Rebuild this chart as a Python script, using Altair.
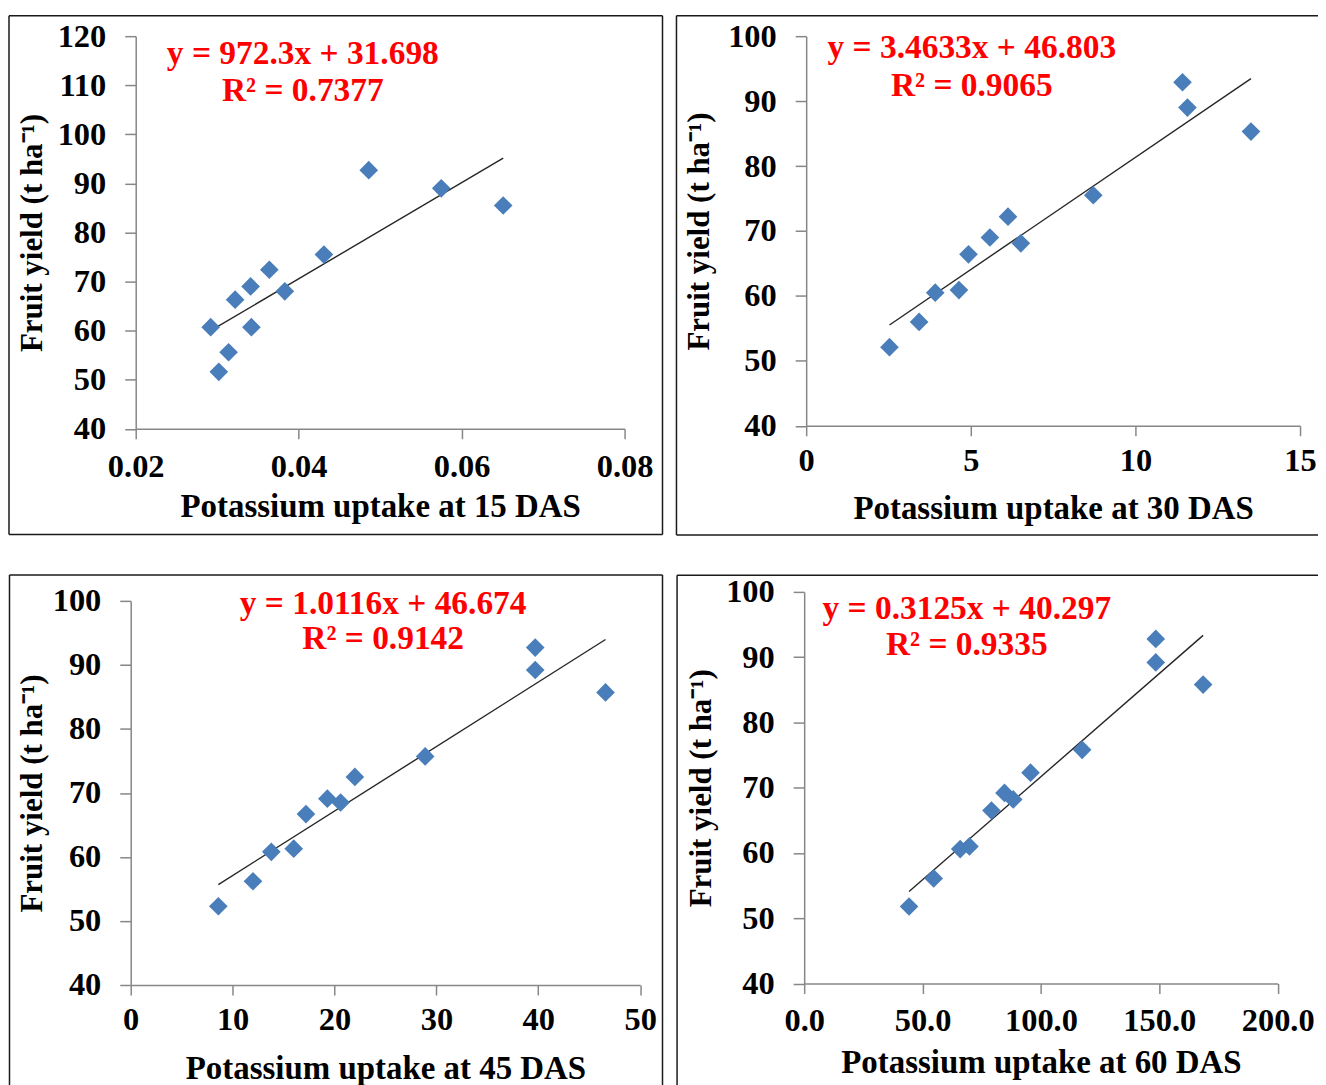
import altair as alt
import pandas as pd

FONT = "Liberation Serif"

# ---- data ----
x15 = [0.0292, 0.0302, 0.0314, 0.0322, 0.0341, 0.0342, 0.0364, 0.0383, 0.0431, 0.0486, 0.0575, 0.0651]
y15 = [60.7, 51.6, 55.6, 66.3, 69.0, 60.7, 72.4, 68.0, 75.5, 92.7, 89.0, 85.5]

x30 = [2.53, 3.43, 3.92, 4.64, 4.93, 5.58, 6.13, 6.52, 8.72, 11.43, 11.58, 13.51]
y30 = [52.1, 56.0, 60.5, 60.9, 66.4, 69.0, 72.2, 68.1, 75.5, 92.9, 89.0, 85.3]

x45 = [8.6, 12.0, 13.8, 16.0, 17.2, 19.3, 20.6, 22.0, 28.9, 39.7, 39.7, 46.6]
y45 = [52.3, 56.2, 60.8, 61.3, 66.7, 69.1, 68.5, 72.5, 75.7, 92.7, 89.2, 85.7]

x60 = [44.3, 54.7, 65.9, 69.8, 79.1, 84.6, 88.3, 95.6, 117.4, 148.5, 148.5, 168.5]
y60 = [51.8, 56.1, 60.6, 61.0, 66.5, 69.2, 68.2, 72.3, 75.8, 92.8, 89.2, 85.8]

eq15 = ["y = 972.3x + 31.698", "R² = 0.7377"]
eq30 = ["y = 3.4633x + 46.803", "R² = 0.9065"]
eq45 = ["y = 1.0116x + 46.674", "R² = 0.9142"]
eq60 = ["y = 0.3125x + 40.297", "R² = 0.9335"]

xtitles = ["Potassium uptake at 15 DAS", "Potassium uptake at 30 DAS",
           "Potassium uptake at 45 DAS", "Potassium uptake at 60 DAS"]
ytitle = "Fruit yield (t ha⁻¹)"

xticks15 = [0.02, 0.04, 0.06, 0.08]
xticks30 = [0, 5, 10, 15]
xticks45 = [0, 10, 20, 30, 40, 50]
xticks60 = [0, 50, 100, 150, 200]
yticks_a = [40, 50, 60, 70, 80, 90, 100, 110, 120]
yticks_b = [40, 50, 60, 70, 80, 90, 100]

AXIS_GRAY = "#878787"
PT_COLOR = "#4A7EBB"


def panel(xs, ys, xdom, xticks, xfmt, ydom, yticks, w, h, eq, eqx, eqy1, eqy2,
          xtitle, xlabpad, xtitley, ytitlex, border, xshift=0):
    df = pd.DataFrame({"x": xs, "y": ys})
    xscale = alt.Scale(domain=xdom, nice=False, zero=False)
    if xshift:
        xscale = alt.Scale(domain=xdom, nice=False, zero=False,
                           range=[-xshift, w - xshift])
    xenc = alt.X("x:Q", scale=xscale,
                 axis=alt.Axis(values=xticks, format=xfmt, title=xtitle, grid=False,
                               labelFont=FONT, labelFontSize=32.5, labelFontWeight="bold",
                               labelColor="black", labelFlush=False, labelOverlap=False,
                               labelBaseline="middle", labelPadding=xlabpad,
                               tickSize=10, tickColor=AXIS_GRAY, tickWidth=1.5,
                               domainColor=AXIS_GRAY, domainWidth=1.5,
                               titleFont=FONT, titleFontSize=33, titleFontWeight="bold",
                               titleColor="black", titleBaseline="middle", titleY=xtitley,
                               titleX=w / 2 - xshift))
    yenc = alt.Y("y:Q", scale=alt.Scale(domain=ydom, nice=False, zero=False),
                 axis=alt.Axis(values=yticks, format="d", title=ytitle, grid=False,
                               offset=xshift,
                               labelFont=FONT, labelFontSize=32.5, labelFontWeight="bold",
                               labelColor="black", labelFlush=False, labelOverlap=False,
                               labelPadding=19, tickSize=11, tickColor=AXIS_GRAY,
                               tickWidth=1.5, domainColor=AXIS_GRAY, domainWidth=1.5,
                               titleFont=FONT, titleFontSize=31, titleFontWeight="bold",
                               titleColor="black", titleBaseline="middle",
                               titleAngle=270, titleX=ytitlex))
    base = alt.Chart(df)
    line = base.transform_regression("x", "y").mark_line(
        color="#262626", strokeWidth=1.4).encode(x=xenc, y=yenc)
    pts = base.mark_point(shape="diamond", filled=True, size=350, opacity=1,
                          color=PT_COLOR).encode(x=xenc, y=yenc)
    texts = []
    for txt, ty in zip(eq, [eqy1, eqy2]):
        texts.append(
            alt.Chart(pd.DataFrame({"t": [txt]})).mark_text(
                align="center", baseline="middle", font=FONT, fontSize=33.5,
                fontWeight="bold", color="#FF0000").encode(
                text="t:N", x=alt.value(eqx - xshift), y=alt.value(ty)))
    l, t, r, b, sides = border
    l -= xshift
    r -= xshift
    segs = []
    one = pd.DataFrame({"k": [0]})
    seg_defs = {
        "top": (l, r, t, t),
        "bottom": (l, r, b, b),
        "left": (l, l, t, b),
        "right": (r, r, t, b),
    }
    for s in sides:
        x1, x2, y1, y2 = seg_defs[s]
        segs.append(alt.Chart(one).mark_rule(color="#1a1a1a", strokeWidth=1.5).encode(
            x=alt.value(x1), x2=alt.value(x2), y=alt.value(y1), y2=alt.value(y2)))
    return alt.layer(*segs, line, pts, *texts).properties(width=w, height=h)


p1 = panel(x15, y15, [0.02, 0.08], xticks15, ".2f", [40, 120], yticks_a, 490, 393.5,
           eq15, 167.5, 17.5, 54.5, xtitles[0], 28, 78, -103,
           (-127, -20.5, 528, 499.5, ["top", "bottom", "left", "right"]))
p2 = panel(x30, y30, [0, 15], xticks30, "d", [40, 100], yticks_b, 495, 390.5,
           eq30, 166, 12, 50, xtitles[1], 24.5, 83, -107,
           (-130, -20.5, 518, 500, ["top", "bottom", "left"]))
p3 = panel(x45, y45, [0, 50], xticks45, "d", [40, 100], yticks_b, 510.6, 385,
           eq45, 253, 3.5, 38.7, xtitles[2], 25, 83.5, -98,
           (-121.5, -26, 533, 486, ["top", "left", "right"]), xshift=5)
p4 = panel(x60, y60, [0, 200], xticks60, ".1f", [40, 100], yticks_b, 474.6, 392.5,
           eq60, 163, 17, 53.7, xtitles[3], 27, 79, -103,
           (-127.4, -16.6, 518, 495, ["top", "left"]))

chart = alt.concat(p1, p2, p3, p4, columns=2, align="none",
                   spacing={"row": 38, "column": 12}).properties(
    padding={"left": 0, "top": 5, "right": -6, "bottom": -2},
    background="white",
).configure_view(strokeWidth=0)

chart.save("out.html", embed_options={"renderer": "svg", "actions": False})
